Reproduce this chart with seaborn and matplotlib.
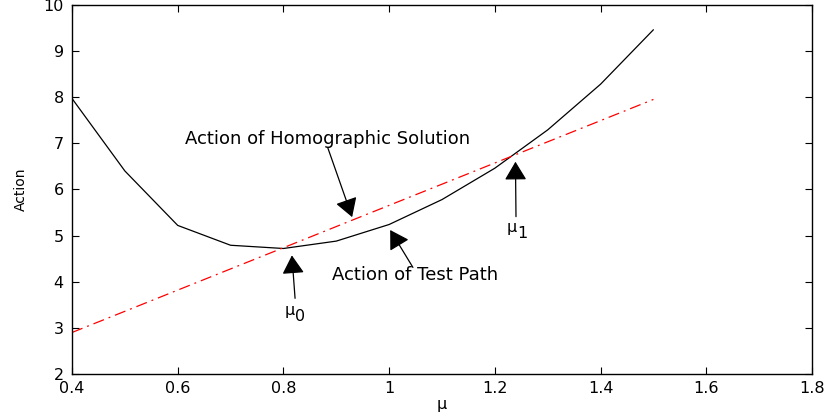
import pandas as pd
import seaborn as sns
import matplotlib
matplotlib.use("Agg")
import matplotlib.pyplot as plt

# Action of the test path, sampled along mu
mu_values = [0.4, 0.5, 0.6, 0.7, 0.8, 0.9, 1.0, 1.1, 1.2, 1.3, 1.4, 1.5]
test_path_action = [7.97, 6.40, 5.22, 4.79, 4.72, 4.88, 5.24, 5.78, 6.46, 7.29, 8.28, 9.46]

# Action of the homographic solution (straight line)
homographic_mu = [0.4, 1.5]
homographic_action = [2.9, 7.95]

x_ticks = [0.4, 0.6, 0.8, 1.0, 1.2, 1.4, 1.6, 1.8]
x_tick_labels = ["0.4", "0.6", "0.8", "1", "1.2", "1.4", "1.6", "1.8"]
y_ticks = [2, 3, 4, 5, 6, 7, 8, 9, 10]

test_df = pd.DataFrame({"mu": mu_values, "action": test_path_action})
homo_df = pd.DataFrame({"mu": homographic_mu, "action": homographic_action})

sns.set_style("ticks")
plt.rcParams["font.family"] = ["DejaVu Sans"]
plt.rcParams["xtick.direction"] = "in"
plt.rcParams["ytick.direction"] = "in"
for key in ["text.color", "axes.labelcolor", "xtick.color", "ytick.color"]:
    plt.rcParams[key] = "black"

fig = plt.figure(figsize=(8.24, 4.2), dpi=100)
ax = fig.add_axes([0.0874, 0.1095, 0.898, 0.879])

sns.lineplot(data=test_df, x="mu", y="action", color="black", linewidth=0.9, ax=ax)
sns.lineplot(data=homo_df, x="mu", y="action", color="red", linewidth=0.9,
             linestyle=(0, (9, 4, 1.5, 4)), ax=ax)

ax.set_xlim(0.4, 1.8)
ax.set_ylim(2, 10)
ax.set_xticks(x_ticks)
ax.set_xticklabels(x_tick_labels)
ax.set_yticks(y_ticks)
ax.tick_params(axis="both", labelsize=11.5, length=5, width=0.8,
               top=True, right=True)
ax.tick_params(axis="x", pad=5)
ax.tick_params(axis="y", pad=6)
for side in ax.spines.values():
    side.set_linewidth(1.0)
    side.set_color("black")

ax.set_xlabel("\u03bc", fontsize=11.5, labelpad=1)
ax.set_ylabel("Action", fontsize=10, labelpad=11)

arrow = dict(arrowstyle="-|>,head_length=0.6,head_width=0.36", color="black",
             lw=0.9, mutation_scale=19, shrinkA=0, shrinkB=0)

ax.annotate("", xy=(0.93, 5.40), xytext=(0.884, 6.90), arrowprops=arrow)
ax.text(0.884, 7.09, "Action of Homographic Solution", fontsize=13,
        ha="center", va="center")

ax.annotate("", xy=(1.002, 5.12), xytext=(1.045, 4.31), arrowprops=arrow)
ax.text(1.049, 4.14, "Action of Test Path", fontsize=13,
        ha="center", va="center")

ax.annotate("", xy=(0.816, 4.57), xytext=(0.822, 3.64), arrowprops=arrow)
ax.text(0.812, 3.38, "\u03bc", fontsize=11.5, ha="center", va="center")
ax.text(0.832, 3.24, "0", fontsize=11.5, ha="center", va="center")

ax.annotate("", xy=(1.239, 6.60), xytext=(1.24, 5.41), arrowprops=arrow)
ax.text(1.232, 5.18, "\u03bc", fontsize=11.5, ha="center", va="center")
ax.text(1.252, 5.04, "1", fontsize=11.5, ha="center", va="center")

fig.savefig("out.png", dpi=100)
